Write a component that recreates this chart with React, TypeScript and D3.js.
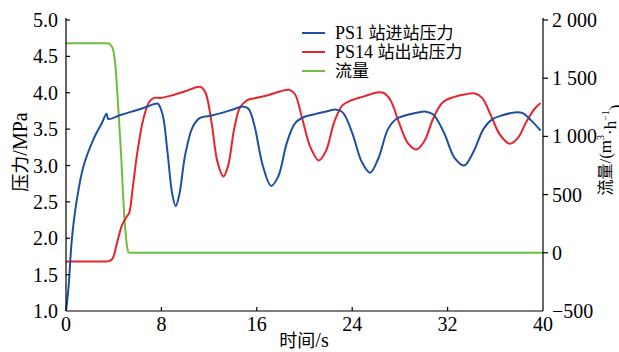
import React from "react";
import * as d3 from "d3";

const xTicks = [0, 8, 16, 24, 32, 40];
const yLeftTicks = [1.0, 1.5, 2.0, 2.5, 3.0, 3.5, 4.0, 4.5, 5.0];
const yRightTicks = [-500, 0, 500, 1000, 1500, 2000];
const rightTickLabels = ["−500", "0", "500", "1 000", "1 500", "2 000"];

const seriesCodes = ["PS1 ", "PS14 ", ""];
const seriesNames = ["站进站压力", "站出站压力", "流量"];

// PS1 inlet pressure (MPa)
const ps1: [number, number][] = [
  [0, 1.0], [0.2, 1.3], [0.5, 2.0], [0.9, 2.52], [1.45, 2.98], [2.3, 3.36], [3.0, 3.58], [3.4, 3.71],
  [3.55, 3.64], [4.5, 3.69], [5.5, 3.74], [6.5, 3.79], [7.3, 3.84], [7.7, 3.85], [8.1, 3.7], [8.5, 3.2],
  [8.9, 2.62], [9.2, 2.44], [9.5, 2.6], [10.0, 3.15], [10.6, 3.52], [11.2, 3.65], [12, 3.68], [13, 3.72],
  [14, 3.77], [14.8, 3.81], [15.3, 3.78], [15.8, 3.55], [16.5, 3.0], [17.2, 2.72], [17.8, 2.85], [18.5, 3.3],
  [19.2, 3.58], [20, 3.67], [21, 3.71], [22, 3.75], [22.6, 3.77], [23.2, 3.73], [24, 3.45], [24.8, 3.05],
  [25.5, 2.9], [26.2, 3.1], [27, 3.5], [27.7, 3.64], [28.5, 3.69], [29.5, 3.73], [30.2, 3.74], [30.8, 3.7],
  [31.7, 3.45], [32.6, 3.1], [33.4, 3.0], [34.2, 3.2], [35, 3.5], [35.7, 3.63], [36.6, 3.69], [37.6, 3.73],
  [38.3, 3.72], [39, 3.62], [39.8, 3.48],
];

// PS14 outlet pressure (MPa)
const ps14: [number, number][] = [
  [0, 1.68], [1.2, 1.68], [2.4, 1.68], [3.2, 1.68], [3.6, 1.685], [3.9, 1.72], [4.3, 1.95], [4.7, 2.18],
  [5.1, 2.3], [5.3, 2.35], [5.6, 2.7],
  [6.0, 3.2], [6.5, 3.65], [7.0, 3.88], [7.4, 3.93], [8, 3.93], [9, 3.97], [10, 4.02], [10.8, 4.07],
  [11.3, 4.08], [11.7, 4.0], [12.2, 3.6], [12.7, 3.05], [13.2, 2.85], [13.6, 3.0], [14.1, 3.5], [14.6, 3.8],
  [15.2, 3.9], [16, 3.93], [17, 3.97], [18, 4.02], [18.7, 4.04], [19.2, 3.98], [19.8, 3.65], [20.5, 3.25],
  [21.2, 3.07], [21.8, 3.2], [22.5, 3.6], [23.2, 3.83], [24, 3.9], [25, 3.95], [26, 4.0], [26.6, 4.0],
  [27.2, 3.9], [27.9, 3.6], [28.7, 3.3], [29.4, 3.22], [30.1, 3.35], [30.8, 3.65], [31.6, 3.87], [32.5, 3.94],
  [33.5, 3.98], [34.3, 3.99], [34.9, 3.93], [35.6, 3.7], [36.4, 3.42], [37.2, 3.3], [37.9, 3.38], [38.6, 3.6],
  [39.3, 3.78], [39.8, 3.86],
];

// Flow (m3/h)
const flow: [number, number][] = [
  [0, 1800], [3.5, 1800], [3.75, 1785], [3.95, 1745], [4.15, 1600], [4.35, 1300], [4.6, 880], [4.85, 380],
  [5.1, 70], [5.25, 2], [5.5, 0], [40, 0],
];

const colors = ["#1d4fa3", "#e8242a", "#6dbd3f"];

const W = 619;
const H = 352;
const L = 66, R = 543, T = 20, B = 311;
const SERIF = "Liberation Serif";
const CJK = "Noto Sans CJK SC";

export default function App() {
  const x = d3.scaleLinear().domain([0, 40]).range([L, R]);
  const yL = d3.scaleLinear().domain([1, 5]).range([B, T]);
  const yR = d3.scaleLinear().domain([-500, 2000]).range([B, T]);

  const lineL = d3.line<[number, number]>().x(d => x(d[0])).y(d => yL(d[1])).curve(d3.curveCatmullRom.alpha(0.5));
  const lineR = d3.line<[number, number]>().x(d => x(d[0])).y(d => yR(d[1])).curve(d3.curveMonotoneX);

  return (
    <svg width={W} height={H} style={{ position: "absolute", left: 0, top: 0, background: "#fff" }}>
      <rect width={W} height={H} fill="#fff" />
      {/* data */}
      <path d={lineR(flow) || ""} fill="none" stroke={colors[2]} strokeWidth={2} />
      <path d={lineL(ps14) || ""} fill="none" stroke={colors[1]} strokeWidth={2} />
      <path d={lineL(ps1) || ""} fill="none" stroke={colors[0]} strokeWidth={2} />

      {/* axes */}
      <line x1={L} y1={T - 2} x2={L} y2={B} stroke="#000" strokeWidth={1.2} />
      <line x1={R} y1={T - 2} x2={R} y2={B} stroke="#000" strokeWidth={1.2} />
      <line x1={L} y1={B} x2={R} y2={B} stroke="#000" strokeWidth={1.2} />

      <g fontFamily={SERIF} fill="#000" fontSize={20}>
        {yLeftTicks.map(v => (
          <g key={"l" + v}>
            {v > 1 && <line x1={L} x2={L + 4} y1={yL(v)} y2={yL(v)} stroke="#000" strokeWidth={1.2} />}
            <text x={L - 8} y={yL(v)} dy="0.35em" textAnchor="end">{v.toFixed(1)}</text>
          </g>
        ))}
        {yRightTicks.map((v, i) => (
          <g key={"r" + v}>
            {v > -500 && <line x1={R} x2={R + 5} y1={yR(v)} y2={yR(v)} stroke="#000" strokeWidth={1.2} />}
            <text x={R + 9} y={yR(v)} dy="0.35em" textAnchor="start">{rightTickLabels[i]}</text>
          </g>
        ))}
        {xTicks.map(v => (
          <g key={"x" + v}>
            {v > 0 && v < 40 && <line x1={x(v)} x2={x(v)} y1={B} y2={B - 4} stroke="#000" strokeWidth={1.2} />}
            <text x={x(v)} y={B + 13} dy="0.35em" textAnchor="middle">{v}</text>
          </g>
        ))}
      </g>

      {/* axis titles */}
      <text x={304} y={341} dy="0.35em" textAnchor="middle" fontSize={18} fill="#000">
        <tspan fontFamily={CJK}>时间</tspan><tspan fontFamily={SERIF} fontSize={20}>/s</tspan>
      </text>
      <text transform={`translate(21,152) rotate(-90)`} dy="0.35em" textAnchor="middle" fontSize={18} fill="#000">
        <tspan fontFamily={CJK}>压力</tspan><tspan fontFamily={SERIF} fontSize={20}>/MPa</tspan>
      </text>
      <text transform={`translate(606,150) rotate(-90)`} dy="0.33em" textAnchor="middle" fontSize={16} fill="#000">
        <tspan fontFamily={CJK}>流量</tspan>
        <tspan fontFamily={SERIF} fontSize={17}>/(m</tspan>
        <tspan fontFamily={SERIF} fontSize={10} dy="-0.7em">3</tspan>
        <tspan fontFamily={SERIF} fontSize={17} dy="0.7em">·h</tspan>
        <tspan fontFamily={SERIF} fontSize={10} dy="-0.7em">−1</tspan>
        <tspan fontFamily={SERIF} fontSize={17} dy="0.7em">)</tspan>
      </text>

      {/* legend */}
      {seriesNames.map((n, i) => (
        <g key={n}>
          <line x1={302} x2={325} y1={33 + i * 19} y2={33 + i * 19} stroke={colors[i]} strokeWidth={2} />
          <text x={335} y={33 + i * 19} dy="0.35em" fontSize={17} fill="#000">
            {seriesCodes[i] && <tspan fontFamily={SERIF} fontSize={18}>{seriesCodes[i]}</tspan>}
            <tspan fontFamily={CJK} fontSize={17}>{n}</tspan>
          </text>
        </g>
      ))}
    </svg>
  );
}
